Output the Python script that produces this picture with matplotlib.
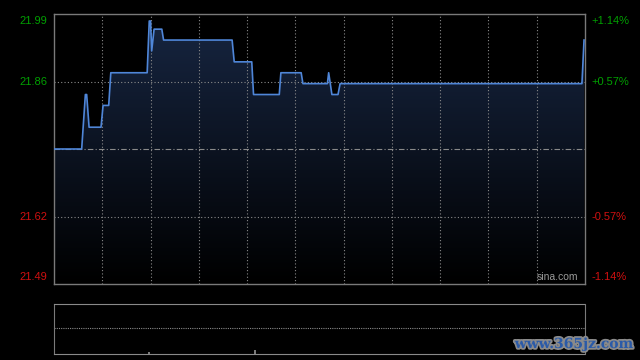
import numpy as np
import matplotlib
matplotlib.use('Agg')
import matplotlib.pyplot as plt
import matplotlib.patheffects as pe
from matplotlib.patches import Polygon

# Intraday minutes (0 = open, 330 = close) and price at each turning point
minutes = [0, 17.2, 19.5, 20.3, 21.8, 29.2, 30.5, 34, 35.3, 57.9, 59.2, 60.0, 60.7, 62.2,
           67, 68.1, 110.7, 112, 122.9, 124, 140, 141, 153.6, 154.7, 169.9, 170.7,
           172.7, 176.5, 177.8, 328.1, 329.4]
prices = [21.74, 21.74, 21.84, 21.84, 21.78, 21.78, 21.82, 21.82, 21.88, 21.88, 21.975, 21.975,
          21.92, 21.96, 21.96, 21.94, 21.94, 21.90, 21.90, 21.84, 21.84, 21.88, 21.88, 21.86,
          21.86, 21.88, 21.84, 21.84, 21.86, 21.86, 21.94]
prev_close = 21.74
pct = 0.0114

left_labels = ['21.99', '21.86', '21.62', '21.49']
right_labels = ['+1.14%', '+0.57%', '-0.57%', '-1.14%']

vol_minutes = [59, 125]
vol_values = [1.0, 1.6]

green = '#00a000'
red = '#d01010'
grey = '#7a7a7a'

fig = plt.figure(figsize=(6.4, 3.6), dpi=100, facecolor='black')
ax = fig.add_axes([54 / 640, 1 - 284 / 360, 531 / 640, 270 / 360])
ax.set_facecolor('black')
lo, hi = prev_close * (1 - pct), prev_close * (1 + pct)
ax.set_xlim(0, 330)
ax.set_ylim(lo, hi)

# gradient fill under the line
grad = np.linspace(1, 0, 256).reshape(-1, 1)
top_col = np.array([0x17, 0x26, 0x42]) / 255
img = grad[..., None] * top_col[None, None, :]
im = ax.imshow(img, extent=[0, 330, lo, hi], aspect='auto', zorder=1, interpolation='bilinear')
poly = Polygon(list(zip(minutes, prices)) + [(minutes[-1], lo), (minutes[0], lo)],
               closed=True, facecolor='none', edgecolor='none')
ax.add_patch(poly)
im.set_clip_path(poly)

# grid
for m in range(30, 330, 30):
    ax.axvline(m, color='#8a8a8a', lw=0.8, ls=(0, (1, 2)), zorder=2)
for v in [prev_close * (1 + pct / 2), prev_close * (1 - pct / 2)]:
    ax.axhline(v, color='#8a8a8a', lw=0.8, ls=(0, (1, 2)), zorder=2)
ax.axhline(prev_close, color='#8a8a8a', lw=0.8, ls=(0, (5, 2, 1, 2)), zorder=2)

ax.plot(minutes, prices, color='#4f86d8', lw=1.2, zorder=3)

for s in ax.spines.values():
    s.set_color(grey)
    s.set_linewidth(1)
ax.set_xticks([])
ax.set_yticks([])

# axis labels
ypos = [hi - 0.012, prev_close * (1 + pct / 2), prev_close * (1 - pct / 2), lo + 0.012]
for i in range(4):
    c = green if i < 2 else red
    ax.text(-4, ypos[i], left_labels[i], color=c, fontsize=8, ha='right', va='center',
            family='Liberation Sans')
    ax.text(334, ypos[i], right_labels[i], color=c, fontsize=8, ha='left', va='center',
            family='Liberation Sans')
ax.text(326, lo + 0.003, 'sina.com', color='#9a9a9a', fontsize=7.5, ha='right', va='bottom',
        family='Liberation Sans')

# volume panel
vax = fig.add_axes([54 / 640, 1 - 354 / 360, 531 / 640, 50 / 360])
vax.set_facecolor('black')
vax.set_xlim(0, 330)
vax.set_ylim(0, 20)
vax.bar(vol_minutes, vol_values, width=0.8, color=grey)
vax.axhline(10.4, color='#8a8a8a', lw=0.8, ls=(0, (1, 1)))
vax.set_xticks([])
vax.set_yticks([])
for k in ['top', 'bottom']:
    vax.spines[k].set_color('#8a8a8a')
    vax.spines[k].set_linestyle((0, (1, 1)))
    vax.spines[k].set_linewidth(0.8)
for k in ['left', 'right']:
    vax.spines[k].set_color(grey)

fig.text(574 / 640, 1 - 344 / 360, 'www.365jz.com', color='#2a5aa8', fontsize=10,
         fontweight='bold', family='DejaVu Serif', ha='center', va='center',
         path_effects=[pe.withStroke(linewidth=2.5, foreground='#8a8a8a')])

fig.savefig('out.png', dpi=100, facecolor='black')
